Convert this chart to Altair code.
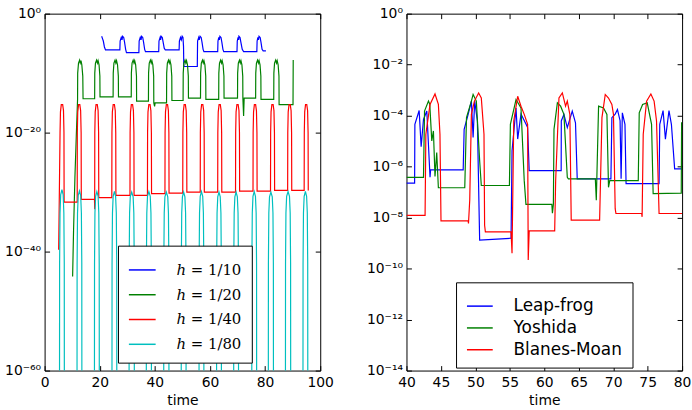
import altair as alt
import pandas as pd

# ---------------- left panel: step sizes (time, log10 error) ----------------
h10_t = [20.7, 21.0, 21.3, 21.7, 22.1,
         27.3, 27.4, 27.8, 28.1, 28.3, 28.7, 29.0, 29.4, 29.7,
         34.2, 34.3, 34.7, 35.0, 35.2, 35.6, 35.9, 36.3, 36.6,
         41.4, 41.5, 41.9, 42.1, 42.3, 42.7, 43.0, 43.4, 43.8,
         48.8, 48.9, 49.3, 49.6, 49.9, 50.2, 50.4, 50.5,
         55.4, 55.5, 55.9, 56.1, 56.4, 56.8, 57.1, 57.5, 57.8,
         62.8, 62.9, 63.2, 63.4, 63.6, 64.0, 64.3, 64.7, 65.0,
         69.8, 69.9, 70.2, 70.4, 70.5, 70.9, 71.2, 71.7, 72.2,
         77.0, 77.1, 77.4, 77.6, 77.8, 78.2, 78.5, 78.9, 79.3, 80.3]
h10_e = [-3.8, -4.2, -4.6, -5.6, -6.1,
         -6.1, -4.6, -4.0, -4.4, -3.8, -4.0, -4.8, -6.0, -6.55,
         -6.55, -4.6, -4.0, -4.4, -3.8, -4.0, -4.8, -6.0, -6.38,
         -6.38, -4.6, -4.0, -4.4, -3.8, -4.0, -4.8, -5.8, -6.1,
         -6.1, -4.6, -4.0, -4.4, -3.8, -4.0, -5.5, -8.88,
         -8.88, -4.6, -4.0, -4.4, -3.8, -4.0, -4.8, -6.0, -6.38,
         -6.38, -4.6, -4.0, -4.4, -3.8, -4.0, -4.8, -6.0, -6.38,
         -6.38, -4.6, -4.0, -4.4, -3.8, -4.0, -4.8, -6.0, -6.38,
         -6.38, -4.6, -4.0, -4.4, -3.8, -4.0, -4.8, -6.0, -6.27, -6.27]

h20_t = [10.16, 10.5, 11.0, 11.5, 11.96, 12.0, 12.3, 12.7, 12.93, 13.2, 13.5, 13.85, 13.95,
         18.15, 18.20, 18.45, 18.85, 19.15, 19.40, 19.75, 20.05, 20.10,
         24.85, 24.90, 25.15, 25.55, 25.85, 26.10, 26.45, 26.75, 26.80,
         31.43, 31.48, 31.73, 32.13, 32.43, 32.68, 33.03, 33.33, 33.38,
         37.67, 37.72, 37.97, 38.37, 38.67, 38.92, 39.27, 39.57, 39.62, 39.90, 40.10,
         44.24, 44.29, 44.54, 44.94, 45.24, 45.49, 45.84, 46.14, 46.19,
         50.24, 50.29, 50.54, 50.94, 51.24, 51.49, 51.84, 52.14, 52.19,
         56.56, 56.61, 56.86, 57.26, 57.56, 57.81, 58.16, 58.46, 58.51,
         63.16, 63.21, 63.46, 63.86, 64.16, 64.41, 64.76, 65.06, 65.11,
         69.99, 70.04, 70.29, 70.69, 70.99, 71.24, 71.59, 71.89, 71.94, 72.20, 72.40,
         76.56, 76.61, 76.86, 77.26, 77.56, 77.81, 78.16, 78.46, 78.51,
         83.13, 83.18, 83.43, 83.83, 84.13, 84.38, 84.73, 85.03, 85.08,
         90.13, 90.20]
h20_e = [-44.2, -36.5, -27.5, -20.5, -14.4, -10.0, -8.3, -7.8, -8.3, -7.9, -8.6, -10.5, -14.3,
         -14.3, -10.0, -8.3, -7.8, -8.3, -7.9, -8.6, -10.5, -14.0,
         -14.0, -10.0, -8.3, -7.8, -8.3, -7.9, -8.6, -10.5, -14.0,
         -14.0, -10.0, -8.3, -7.8, -8.3, -7.9, -8.6, -10.5, -14.7,
         -14.7, -10.0, -8.3, -7.8, -8.3, -7.9, -8.6, -10.5, -15.0, -15.6, -15.0,
         -15.0, -10.0, -8.3, -7.8, -8.3, -7.9, -8.6, -10.5, -14.6,
         -14.6, -10.0, -8.3, -7.8, -8.3, -7.9, -8.6, -10.5, -14.2,
         -14.2, -10.0, -8.3, -7.8, -8.3, -7.9, -8.6, -10.5, -14.4,
         -14.4, -10.0, -8.3, -7.8, -8.3, -7.9, -8.6, -10.5, -14.2,
         -14.2, -10.0, -8.3, -7.8, -8.3, -7.9, -8.6, -10.5, -14.2, -17.2, -14.2,
         -14.2, -10.0, -8.3, -7.8, -8.3, -7.9, -8.6, -10.5, -14.4,
         -14.4, -10.0, -8.3, -7.8, -8.3, -7.9, -8.6, -10.5, -15.3,
         -15.3, -7.8]

h40_t = [5.10, 5.35, 5.60, 5.75, 6.05, 6.55, 6.85, 7.02, 7.08,
         11.82, 11.87, 12.02, 12.32, 12.77, 13.07, 13.25, 13.31,
         18.10, 18.16, 18.21, 18.36, 18.66, 19.11, 19.41, 19.59, 19.65,
         24.38, 24.43, 24.58, 24.88, 25.33, 25.63, 25.81, 25.87,
         30.97, 31.02, 31.17, 31.47, 31.92, 32.22, 32.40, 32.46,
         37.31, 37.36, 37.51, 37.81, 38.26, 38.56, 38.74, 38.80,
         43.66, 43.71, 43.86, 44.16, 44.61, 44.91, 45.09, 45.15,
         50.12, 50.17, 50.32, 50.62, 51.07, 51.37, 51.55, 51.61,
         56.46, 56.51, 56.66, 56.96, 57.41, 57.71, 57.89, 57.95,
         62.80, 62.85, 63.00, 63.30, 63.75, 64.05, 64.23, 64.29,
         69.27, 69.32, 69.47, 69.77, 70.22, 70.52, 70.70, 70.76,
         75.61, 75.66, 75.81, 76.11, 76.56, 76.86, 77.04, 77.10,
         81.96, 82.01, 82.16, 82.46, 82.91, 83.21, 83.39, 83.45,
         88.18, 88.23, 88.38, 88.68, 89.13, 89.43, 89.61, 89.67,
         94.17, 94.22, 94.37, 94.67, 95.12, 95.42, 95.60, 95.66]
h40_e = [-39.7, -30.0, -20.0, -16.5, -15.3, -15.3, -16.3, -20.0, -31.67,
         -31.67, -20.0, -16.5, -15.3, -15.3, -16.3, -20.0, -31.22,
         -31.22, -32.9, -20.0, -16.5, -15.3, -15.3, -16.3, -20.0, -30.94,
         -30.94, -20.0, -16.5, -15.3, -15.3, -16.3, -20.0, -30.55,
         -30.55, -20.0, -16.5, -15.3, -15.3, -16.3, -20.0, -30.55,
         -30.55, -20.0, -16.5, -15.3, -15.3, -16.3, -20.0, -30.27,
         -30.27, -20.0, -16.5, -15.3, -15.3, -16.3, -20.0, -30.17,
         -30.17, -20.0, -16.5, -15.3, -15.3, -16.3, -20.0, -30.0,
         -30.0, -20.0, -16.5, -15.3, -15.3, -16.3, -20.0, -30.0,
         -30.0, -20.0, -16.5, -15.3, -15.3, -16.3, -20.0, -30.0,
         -30.0, -20.0, -16.5, -15.3, -15.3, -16.3, -20.0, -29.83,
         -29.83, -20.0, -16.5, -15.3, -15.3, -16.3, -20.0, -29.83,
         -29.83, -20.0, -16.5, -15.3, -15.3, -16.3, -20.0, -29.72,
         -29.72, -20.0, -16.5, -15.3, -15.3, -16.3, -20.0, -29.72,
         -29.72, -20.0, -16.5, -15.3, -15.3, -16.3, -20.0, -29.72]

h80_t = [5.39, 5.44, 5.59, 5.84, 6.29, 6.73, 6.98, 7.13, 7.18,
         11.74, 11.79, 11.94, 12.19, 12.64, 13.09, 13.34, 13.49, 13.54,
         18.06, 18.11, 18.26, 18.51, 18.96, 19.41, 19.66, 19.81, 19.86,
         24.42, 24.47, 24.62, 24.87, 25.32, 25.76, 26.01, 26.16, 26.21,
         30.63, 30.68, 30.83, 31.08, 31.60, 32.12, 32.37, 32.52, 32.57,
         36.88, 36.93, 37.08, 37.33, 37.83, 38.33, 38.58, 38.73, 38.78,
         43.20, 43.25, 43.40, 43.65, 44.17, 44.68, 44.93, 45.08, 45.13,
         49.55, 49.60, 49.75, 50.00, 50.45, 50.90, 51.15, 51.30, 51.35,
         56.01, 56.06, 56.21, 56.46, 56.91, 57.36, 57.61, 57.76, 57.81,
         62.37, 62.42, 62.57, 62.82, 63.27, 63.72, 63.97, 64.12, 64.17,
         68.58, 68.63, 68.78, 69.03, 69.48, 69.93, 70.18, 70.33, 70.38,
         75.15, 75.20, 75.35, 75.60, 76.05, 76.50, 76.75, 76.90, 76.95,
         81.15, 81.20, 81.35, 81.60, 82.10, 82.60, 82.85, 83.00, 83.05,
         87.36, 87.41, 87.56, 87.81, 88.33, 88.85, 89.10, 89.25, 89.30,
         93.72, 93.77, 93.92, 94.17, 94.62, 95.06, 95.31, 95.46, 95.51]
h80_e = [-75, -42, -33.5, -30.4, -29.6, -30.4, -33.5, -42, -75,
         -75, -42, -33.5, -30.6, -29.8, -30.6, -33.5, -42, -75,
         -75, -42, -33.5, -30.7, -29.9, -30.7, -33.5, -42, -75,
         -75, -42, -33.5, -30.7, -29.9, -30.7, -33.5, -42, -75,
         -75, -42, -33.5, -30.8, -30.0, -30.8, -33.5, -42, -75,
         -75, -42, -33.5, -30.7, -29.9, -30.7, -33.5, -42, -75,
         -75, -42, -33.5, -30.8, -30.0, -30.8, -33.5, -42, -75,
         -75, -42, -33.5, -30.8, -30.0, -30.8, -33.5, -42, -75,
         -75, -42, -33.5, -30.7, -29.9, -30.7, -33.5, -42, -75,
         -75, -42, -33.5, -30.8, -30.0, -30.8, -33.5, -42, -75,
         -75, -42, -33.5, -30.8, -30.0, -30.8, -33.5, -42, -75,
         -75, -42, -33.5, -30.7, -29.9, -30.7, -33.5, -42, -75,
         -75, -42, -33.5, -30.8, -30.0, -30.8, -33.5, -42, -75,
         -75, -42, -33.5, -30.7, -29.9, -30.7, -33.5, -42, -75,
         -75, -42, -33.5, -30.7, -29.9, -30.7, -33.5, -42, -75]

# ---------------- right panel: integrators (time, log10 error) ----------------
lf_t = [40.0, 41.18, 41.22, 41.84, 42.13, 42.47, 42.95, 43.42, 43.5, 48.23,
        48.37, 48.95, 49.42, 49.67, 49.9, 50.29, 50.62, 55.18,
        55.32, 55.9, 56.14, 56.62, 57.34, 57.58, 57.81, 62.45,
        62.47, 62.85, 63.34, 64.06, 64.53, 64.78, 69.67,
        69.81, 70.29, 70.62, 71.0, 71.15, 71.33, 71.71, 71.87, 76.66,
        76.76, 77.24, 77.58, 78.1, 78.45, 78.92, 80.0]
lf_e = [-6.65, -6.65, -4.34, -3.80, -5.22, -4.15, -3.82, -6.42, -6.13, -6.13,
        -4.54, -3.95, -3.43, -4.86, -3.43, -4.21, -8.88, -8.81,
        -5.38, -3.70, -4.92, -3.94, -4.33, -4.47, -6.16, -6.16,
        -4.21, -3.95, -4.47, -3.82, -4.28, -6.48, -6.48,
        -4.08, -3.94, -3.76, -4.2, -6.48, -3.89, -4.34, -6.67, -6.67,
        -4.34, -3.80, -4.92, -3.80, -4.34, -6.09, -6.09]

yo_t = [40.0, 42.47, 42.62, 43.19, 43.38, 43.67, 43.91, 44.14, 44.39, 44.63, 48.46,
        48.71, 49.42, 49.67, 50.14, 50.62, 50.86, 54.94,
        55.08, 55.9, 56.62, 57.09, 57.34, 61.1, 61.18, 61.32,
        61.41, 61.9, 62.37, 62.85, 63.34, 63.5, 67.41, 67.55,
        67.88, 68.6, 69.09, 69.32, 69.5, 73.64,
        73.78, 74.27, 74.94, 75.57, 75.8, 79.88, 79.93, 80.0]
yo_e = [-6.42, -6.42, -3.82, -3.43, -3.55, -4.99, -4.6, -6.39, -5.45, -6.83, -6.83,
        -4.08, -3.43, -3.17, -3.43, -5.77, -6.74, -6.74,
        -4.34, -3.37, -3.70, -6.55, -7.48, -7.48, -7.83, -7.48,
        -4.54, -3.50, -3.63, -3.95, -6.42, -6.48, -6.48, -7.32,
        -3.63, -3.70, -3.95, -6.81, -6.55, -6.55,
        -3.89, -3.56, -3.50, -4.34, -7.06, -7.04, -4.28, -4.28]

bm_t = [40.0, 42.7, 42.81, 43.42, 44.14, 44.63, 44.86, 45.01, 48.95,
        49.0, 49.18, 49.42, 49.86, 50.47, 50.86, 51.25, 51.34, 51.45, 55.18,
        55.32, 55.57, 56.14, 56.62, 57.09, 57.58, 57.67, 57.81, 61.51,
        61.65, 62.13, 62.62, 63.09, 63.34, 63.71, 63.91, 68.03,
        68.37, 68.85, 69.32, 69.81, 70.04, 70.29, 70.4, 74.13,
        74.2, 74.36, 74.85, 75.47, 75.94, 76.29, 76.66, 80.0]
bm_e = [-7.91, -7.91, -4.73, -3.56, -3.15, -3.56, -4.73, -8.13, -8.13,
        -8.23, -7.32, -3.95, -3.43, -3.11, -3.31, -4.73, -8.3, -8.56, -8.56,
        -9.40, -4.21, -3.24, -3.63, -3.95, -4.34, -9.66, -8.52, -8.52,
        -6.55, -3.31, -3.11, -3.63, -3.43, -3.95, -8.10, -8.10,
        -4.08, -3.17, -3.31, -3.56, -3.95, -7.65, -7.84, -7.84,
        -7.97, -4.73, -3.43, -3.15, -3.43, -4.21, -7.84, -7.84]

left_names = ["ℎ = 1/10", "ℎ = 1/20", "ℎ = 1/40", "ℎ = 1/80"]
left_colors = ["#0000ff", "#008000", "#ff0000", "#00bfbf"]
right_names = ["Leap-frog", "Yoshida", "Blanes-Moan"]
right_colors = ["#0000ff", "#008000", "#ff0000"]

left_xticks = [0, 20, 40, 60, 80, 100]
left_yexp = [-60, -40, -20, 0]
right_xticks = [40, 45, 50, 55, 60, 65, 70, 75, 80]
right_yexp = [-14, -12, -10, -8, -6, -4, -2, 0]


def frame(t, e, name):
    return pd.DataFrame({"time": t, "err": [10.0 ** v for v in e], "series": name,
                         "idx": list(range(len(t)))})


left_df = pd.concat([frame(h10_t, h10_e, left_names[0]), frame(h20_t, h20_e, left_names[1]),
                     frame(h40_t, h40_e, left_names[2]), frame(h80_t, h80_e, left_names[3])])
right_df = pd.concat([frame(lf_t, lf_e, right_names[0]), frame(yo_t, yo_e, right_names[1]),
                      frame(bm_t, bm_e, right_names[2])])

SUP = {"-": "⁻", "0": "⁰", "1": "¹", "2": "²", "4": "⁴", "6": "⁶", "8": "⁸"}


def sup_expr(exps):
    parts = []
    for n in exps:
        s = "".join(SUP[c] for c in str(n))
        parts.append(f"abs(log(datum.value)/LN10 - ({n})) < 0.5 ? '10{s}'")
    return " : ".join(parts) + " : ''"


TICK = 5


def panel(df, names, colors, xdom, xticks, yexp, legend):
    xs = alt.Scale(domain=xdom, nice=False, zero=False)
    ys = alt.Scale(type="log", domain=[10.0 ** yexp[0], 10.0 ** yexp[-1]], nice=False)
    yvals = [10.0 ** n for n in yexp]
    color = alt.Color("series:N", scale=alt.Scale(domain=names, range=colors), legend=legend)
    bottom = alt.Axis(orient="bottom", values=xticks, format="d", offset=-TICK, tickSize=TICK,
                      domain=False, grid=False, labelPadding=5, labelFlush=False,
                      labelOverlap=False, title="time", titlePadding=4)
    left = alt.Axis(orient="left", values=yvals, labelExpr=sup_expr(yexp), offset=-TICK,
                    tickSize=TICK, domain=False, grid=False, labelPadding=4, labelOffset=0,
                    labelFontSize=14, labelFlush=False, labelOverlap=False, title=None)
    top = alt.Axis(orient="top", values=xticks, labels=False, offset=-TICK, tickSize=TICK,
                   domain=False, grid=False, title=None)
    right = alt.Axis(orient="right", values=yvals, labels=False, offset=-TICK, tickSize=TICK,
                     domain=False, grid=False, title=None)
    layers = []
    for i, n in enumerate(names):
        layers.append(
            alt.Chart(df).transform_filter(alt.datum.series == n)
            .mark_line(clip=True, strokeWidth=1.2)
            .encode(x=alt.X("time:Q", scale=xs, axis=bottom if i == 0 else None),
                    y=alt.Y("err:Q", scale=ys, axis=left if i == 0 else None),
                    color=color, order=alt.Order("idx:Q"))
        )
    ticks = (alt.Chart(df).transform_filter(alt.datum.series == names[0])
             .mark_line(opacity=0, clip=True)
             .encode(x=alt.X("time:Q", scale=xs, axis=top),
                     y=alt.Y("err:Q", scale=ys, axis=right)))
    layers.append(ticks)
    return (alt.layer(*layers).resolve_axis(x="independent", y="independent")
            .properties(width=278, height=360))


left_legend = alt.Legend(title=None, orient="none", legendX=74, legendY=234,
                         symbolType="stroke", symbolSize=729, symbolStrokeWidth=1.5,
                         labelFont="DejaVu Serif", labelFontSize=15, labelOffset=20,
                         padding=10, rowPadding=2, strokeColor="black", fillColor="white",
                         labelColor="black", cornerRadius=0)
right_legend = alt.Legend(title=None, orient="none", legendX=50, legendY=271,
                          symbolType="stroke", symbolSize=676, symbolStrokeWidth=1.5,
                          labelFont="DejaVu Sans", labelFontSize=17, labelOffset=20,
                          padding=10, rowPadding=0, strokeColor="black", fillColor="white",
                          labelColor="black", cornerRadius=0)

chart = (alt.hconcat(panel(left_df, left_names, left_colors, [0, 100], left_xticks, left_yexp, left_legend),
                     panel(right_df, right_names, right_colors, [40, 80], right_xticks, right_yexp, right_legend),
                     spacing=32)
         .resolve_scale(color="independent")
         .properties(padding={"left": 4, "top": 4, "right": 0, "bottom": 0})
         .configure(font="DejaVu Sans")
         .configure_view(stroke="black", strokeWidth=1)
         .configure_axis(labelFont="DejaVu Sans", labelFontSize=14, labelColor="black",
                         tickColor="black", tickWidth=1, titleFont="DejaVu Sans",
                         titleFontSize=14, titleFontWeight="normal", titleColor="black"))

chart.save("out.html", embed_options={"renderer": "svg", "actions": False})
